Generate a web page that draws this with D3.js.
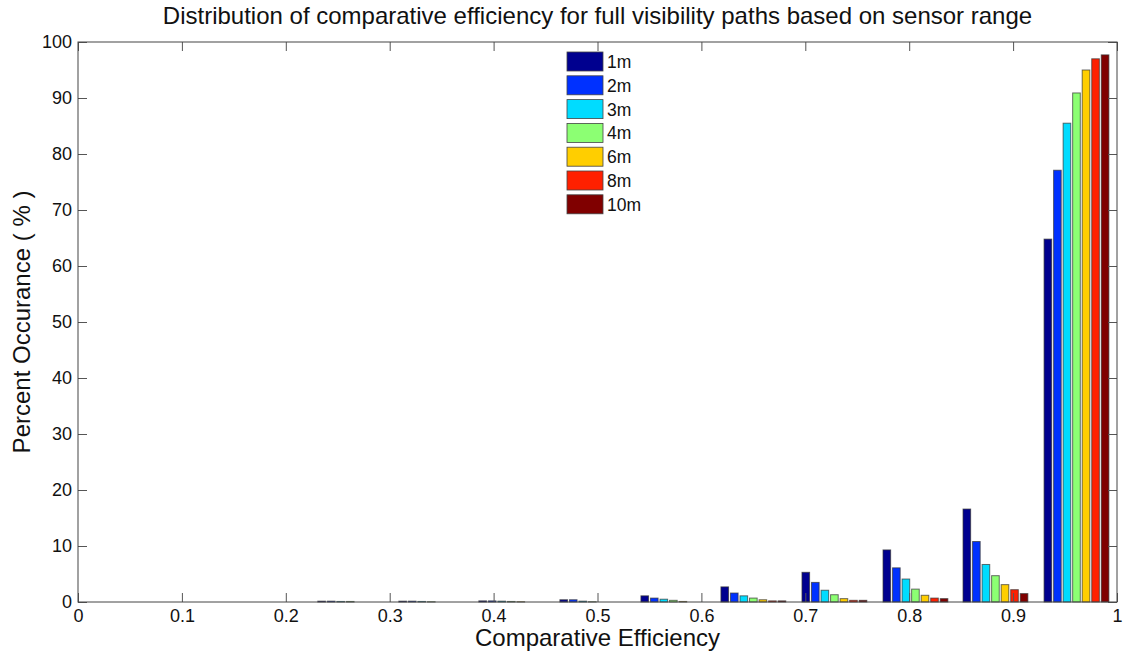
<!DOCTYPE html>
<html>
<head>
<meta charset="utf-8">
<script src="https://cdn.jsdelivr.net/npm/d3@7"></script>
<style>
  body { margin: 0; background: #fff; }
  svg { font-family: "Liberation Sans", Arial, sans-serif; }
</style>
</head>
<body>
<svg id="chart" width="1123" height="656"></svg>
<script>
// histogram bin centers (comparative efficiency)
var binCenters = [0.262, 0.340, 0.417, 0.495, 0.573, 0.650, 0.728, 0.806, 0.883, 0.961];
var seriesNames = ["1m", "2m", "3m", "4m", "6m", "8m", "10m"];
var seriesColors = ["#00008f", "#0031ff", "#00dcff", "#8cff73", "#ffce00", "#ff2000", "#800000"];
// percent occurance per bin, one array per sensor range
var r1m  = [0.15, 0.15, 0.2, 0.4, 1.1, 2.7, 5.3, 9.3, 16.6, 64.8];
var r2m  = [0.15, 0.15, 0.2, 0.4, 0.7, 1.6, 3.5, 6.1, 10.8, 77.1];
var r3m  = [0.1, 0.1, 0.15, 0.15, 0.5, 1.1, 2.1, 4.1, 6.7, 85.5];
var r4m  = [0.1, 0.05, 0.1, 0.05, 0.3, 0.7, 1.3, 2.3, 4.7, 90.9];
var r6m  = [0, 0, 0.05, 0, 0.1, 0.4, 0.6, 1.2, 3.1, 95.0];
var r8m  = [0, 0, 0, 0, 0, 0.2, 0.3, 0.7, 2.2, 97.0];
var r10m = [0, 0, 0, 0, 0, 0.2, 0.3, 0.6, 1.5, 97.7];
var allSeries = [r1m, r2m, r3m, r4m, r6m, r8m, r10m];
var xTicks = [0, 0.1, 0.2, 0.3, 0.4, 0.5, 0.6, 0.7, 0.8, 0.9, 1];
var yTicks = [0, 10, 20, 30, 40, 50, 60, 70, 80, 90, 100];

var plotLeft = 78, plotRight = 1117, plotTop = 42, plotBottom = 602;
var svg = d3.select("#chart");

var x = d3.scaleLinear().domain([0, 1]).range([plotLeft, plotRight]);
var y = d3.scaleLinear().domain([0, 100]).range([plotBottom, plotTop]);

var binWidth = binCenters[1] - binCenters[0];
var groupWidth = x(0.8 * binWidth) - x(0);
var inner = d3.scaleBand().domain(seriesNames).range([-groupWidth/2, groupWidth/2]).paddingInner(0.2);

// bars
seriesNames.forEach(function(name, s) {
    svg.append("g").selectAll("rect")
        .data(allSeries[s])
        .enter().append("rect")
        .attr("x", function(d, i) { return x(binCenters[i]) + inner(name); })
        .attr("y", function(d) { return y(d); })
        .attr("width", inner.bandwidth())
        .attr("height", function(d) { return plotBottom - y(d); })
        .attr("fill", seriesColors[s])
        .attr("stroke", "#333")
        .attr("stroke-opacity", 0.7)
        .attr("stroke-width", 1);
});

// axes with inward ticks on all four sides (box on)
var tl = 9;
function styleAxis(g) {
    g.select(".domain").remove();
    g.attr("font-size", 18).attr("font-family", null);
    g.selectAll(".tick line").attr("stroke", "#555");
    g.selectAll(".tick text").attr("fill", "#111");
}
svg.append("g").attr("transform", "translate(0," + plotBottom + ")")
    .call(d3.axisBottom(x).tickValues(xTicks).tickSize(-tl).tickPadding(7).tickFormat(d3.format("")))
    .call(styleAxis);
svg.append("g").attr("transform", "translate(0," + plotTop + ")")
    .call(d3.axisTop(x).tickValues(xTicks).tickSize(-tl).tickFormat(""))
    .call(styleAxis);
svg.append("g").attr("transform", "translate(" + plotLeft + ",0)")
    .call(d3.axisLeft(y).tickValues(yTicks).tickSize(-tl).tickPadding(6))
    .call(styleAxis);
svg.append("g").attr("transform", "translate(" + plotRight + ",0)")
    .call(d3.axisRight(y).tickValues(yTicks).tickSize(-tl).tickFormat(""))
    .call(styleAxis);

svg.append("rect")
    .attr("x", plotLeft).attr("y", plotTop)
    .attr("width", plotRight - plotLeft).attr("height", plotBottom - plotTop)
    .attr("fill", "none").attr("stroke", "#444").attr("stroke-width", 1);

// legend
var legend = svg.append("g").attr("transform", "translate(567,52)");
seriesNames.forEach(function(name, s) {
    legend.append("rect")
        .attr("x", 0).attr("y", s * 23.8)
        .attr("width", 36).attr("height", 19)
        .attr("fill", seriesColors[s]).attr("stroke", "#444").attr("stroke-width", 0.8);
    legend.append("text")
        .attr("x", 40).attr("y", s * 23.8 + 16)
        .attr("font-size", 17.5)
        .attr("fill", "#111")
        .text(name);
});

// title and labels
svg.append("text")
    .attr("x", (plotLeft + plotRight) / 2).attr("y", 24)
    .attr("text-anchor", "middle").attr("font-size", 24)
    .attr("fill", "#111")
    .text("Distribution of comparative efficiency for full visibility paths based on sensor range");
svg.append("text")
    .attr("x", (plotLeft + plotRight) / 2).attr("y", 646)
    .attr("text-anchor", "middle").attr("font-size", 24)
    .attr("fill", "#111")
    .text("Comparative Efficiency");
svg.append("text")
    .attr("transform", "translate(30," + ((plotTop + plotBottom) / 2) + ") rotate(-90)")
    .attr("text-anchor", "middle").attr("font-size", 24)
    .attr("fill", "#111")
    .text("Percent Occurance ( % )");
</script>
</body>
</html>
